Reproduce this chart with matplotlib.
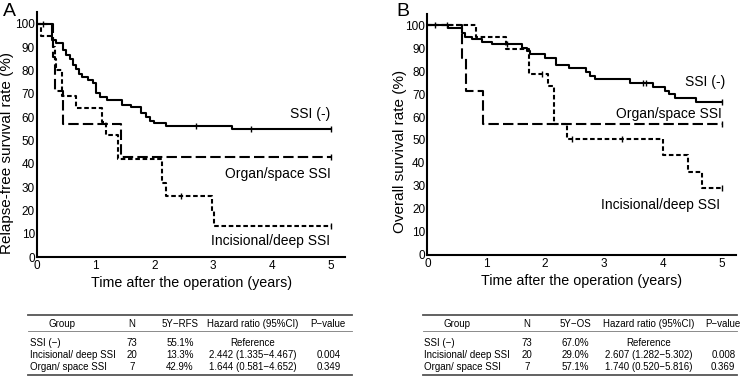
import numpy as np
import matplotlib
matplotlib.use("Agg")
from matplotlib import pyplot as plt

plt.rcParams['font.family'] = ['Liberation Sans', 'DejaVu Sans']

# ---- Panel A: relapse-free survival (step times in years, survival %) ----
a_none_t = [0, 0.25, 0.33, 0.45, 0.5, 0.57, 0.62, 0.67, 0.72, 0.77, 0.87, 0.95, 1.0, 1.07, 1.2,
            1.45, 1.6, 1.77, 1.85, 1.92, 2.0, 2.2, 3.33, 5.0]
a_none_s = [100, 93, 91.8, 88.6, 86.5, 85, 82.5, 80.5, 78.5, 77, 76, 74.5, 70.5, 68.6, 67.5,
            65.4, 64.3, 61.8, 60, 58.5, 57.3, 56.3, 55.1, 55.1]
a_none_c = [0.1, 2.7, 3.65, 5.0]

a_inc_t = [0, 0.07, 0.27, 0.3, 0.33, 0.42, 0.67, 1.1, 1.18, 1.38, 2.13, 2.2, 2.98, 3.02, 5.0]
a_inc_s = [100, 95, 90, 85, 80, 69.2, 63.8, 58, 52.5, 42.2, 31.6, 26.3, 19.7, 13.2, 13.2]
a_inc_c = [2.45, 5.0]

a_org_t = [0, 0.27, 0.3, 0.45, 1.43, 5.0]
a_org_s = [100, 85.7, 71.4, 57.1, 42.9, 42.9]
a_org_c = [5.0]

# ---- Panel B: overall survival ----
b_none_t = [0, 0.35, 0.58, 0.63, 0.75, 0.92, 1.09, 1.6, 1.7, 1.74, 1.99, 2.19, 2.4, 2.7, 2.76,
            2.85, 3.44, 3.83, 4.04, 4.1, 4.21, 4.57, 5.0]
b_none_s = [100, 98.6, 96.4, 94.9, 93.9, 92.7, 91.6, 89.9, 88.7, 87.2, 85.8, 82.6, 81.2, 79.4, 77.8,
            76.4, 74.9, 73.2, 71.4, 69.9, 68.1, 66.7, 66.7]
b_none_c = [0.12, 0.33, 1.36, 3.67, 3.72, 5.0]

b_inc_t = [0, 0.83, 1.34, 1.72, 2.05, 2.15, 2.38, 4.01, 4.43, 4.66, 5.0]
b_inc_s = [100, 94.7, 89.5, 78.9, 73.7, 56.8, 50.5, 43.3, 36.1, 28.9, 28.9]
b_inc_c = [1.95, 2.45, 3.3, 5.0]

b_org_t = [0, 0.58, 0.66, 0.95, 5.0]
b_org_s = [100, 85.7, 71.4, 57.1, 57.1]
b_org_c = [5.0]

# ---- tables ----
groups = ["SSI (\u2212)", "Incisional/ deep SSI", "Organ/ space SSI"]
n_pts = ["73", "20", "7"]
rfs_5y = ["55.1%", "13.3%", "42.9%"]
rfs_hr = ["Reference", "2.442 (1.335\u22124.467)", "1.644 (0.581\u22124.652)"]
rfs_p = ["", "0.004", "0.349"]
os_5y = ["67.0%", "29.0%", "57.1%"]
os_hr = ["Reference", "2.607 (1.282\u22125.302)", "1.740 (0.520\u22125.816)"]
os_p = ["", "0.008", "0.369"]

labels = ["SSI (-)", "Incisional/deep SSI", "Organ/space SSI"]
styles = ['-', (0, (2.2, 1.3)), (0, (5, 2))]

fig = plt.figure(figsize=(7.5, 3.88), dpi=100)
axA = fig.add_axes([0.0493, 0.3376, 0.411, 0.631])
axB = fig.add_axes([0.570, 0.343, 0.4116, 0.622])


def km(ax, t, s, cens, ls):
    ax.step(t, s, where='post', color='black', lw=1.5, linestyle=ls)
    cy = [s[np.searchsorted(t, c, side='right') - 1] for c in cens]
    ax.plot(cens, cy, ls='none', marker='|', ms=4, mew=1, color='black')


for ax, curves, ylab, lx, ly in [
        (axA, [(a_none_t, a_none_s, a_none_c), (a_inc_t, a_inc_s, a_inc_c), (a_org_t, a_org_s, a_org_c)],
         "Relapse-free survival rate (%)", -0.074, 0.424),
        (axB, [(b_none_t, b_none_s, b_none_c), (b_inc_t, b_inc_s, b_inc_c), (b_org_t, b_org_s, b_org_c)],
         "Overall survival rate (%)", -0.067, 0.43)]:
    for (t, s, c), ls in zip(curves, styles):
        km(ax, t, s, c, ls)
    ax.set_xlim(0, 5.25)
    ax.set_ylim(0, 105)
    ax.set_xticks(range(6))
    ax.set_yticks(range(0, 101, 10))
    ax.tick_params(length=0, labelsize=8.5, pad=1.5)
    ax.tick_params(axis='x', pad=2)
    for sp in ['top', 'right']:
        ax.spines[sp].set_visible(False)
    for sp in ['left', 'bottom']:
        ax.spines[sp].set_linewidth(1.5)
    ax.set_xlabel("Time after the operation (years)", fontsize=10.3, labelpad=3)
    ax.set_ylabel(ylab, fontsize=11, labelpad=2)
    ax.yaxis.set_label_coords(lx, ly)

axA.text(5.0, 61.5, labels[0], ha='right', va='center', fontsize=10)
axA.text(5.0, 35.7, labels[2], ha='right', va='center', fontsize=10)
axA.text(5.0, 7.0, labels[1], ha='right', va='center', fontsize=10)
axB.text(5.06, 75.4, labels[0], ha='right', va='center', fontsize=10)
axB.text(5.0, 61.5, labels[2], ha='right', va='center', fontsize=10)
axB.text(4.97, 21.7, labels[1], ha='right', va='center', fontsize=10)

fig.text(3 / 750, 1 - 12 / 388, "A", fontsize=14, va='center')
fig.text(396 / 750, 1 - 12 / 388, "B", fontsize=14, va='center')

# table overlay in pixel coordinates
tab = fig.add_axes([0, 0, 1, 1])
tab.set_xlim(0, 750)
tab.set_ylim(388, 0)
tab.axis('off')


def table(x0, x1, cols, head, columns):
    tab.plot([x0, x1], [315, 315], color='#555555', lw=1.3)
    tab.plot([x0, x1], [331, 331], color='#777777', lw=0.6)
    tab.plot([x0, x1], [375, 375], color='#555555', lw=1.3)
    fs = 7
    for cx, h in zip(cols, head):
        tab.text(cx, 324, h, ha='center', va='center', fontsize=fs)
    for i, y in enumerate([343, 355.5, 367]):
        tab.text(x0 + 1.5, y, columns[0][i], ha='left', va='center', fontsize=fs)
        for cx, col in zip(cols[1:], columns[1:]):
            tab.text(cx, y, col[i], ha='center', va='center', fontsize=fs)


table(28, 352, [62, 131.7, 180, 253, 328.3],
      ["Group", "N", "5Y\u2212RFS", "Hazard ratio (95%CI)", "P\u2212value"],
      [groups, n_pts, rfs_5y, rfs_hr, rfs_p])
table(423, 737, [457, 526.7, 575, 648.3, 723.3],
      ["Group", "N", "5Y\u2212OS", "Hazard ratio (95%CI)", "P\u2212value"],
      [groups, n_pts, os_5y, os_hr, os_p])

fig.savefig("out.png", dpi=100)
